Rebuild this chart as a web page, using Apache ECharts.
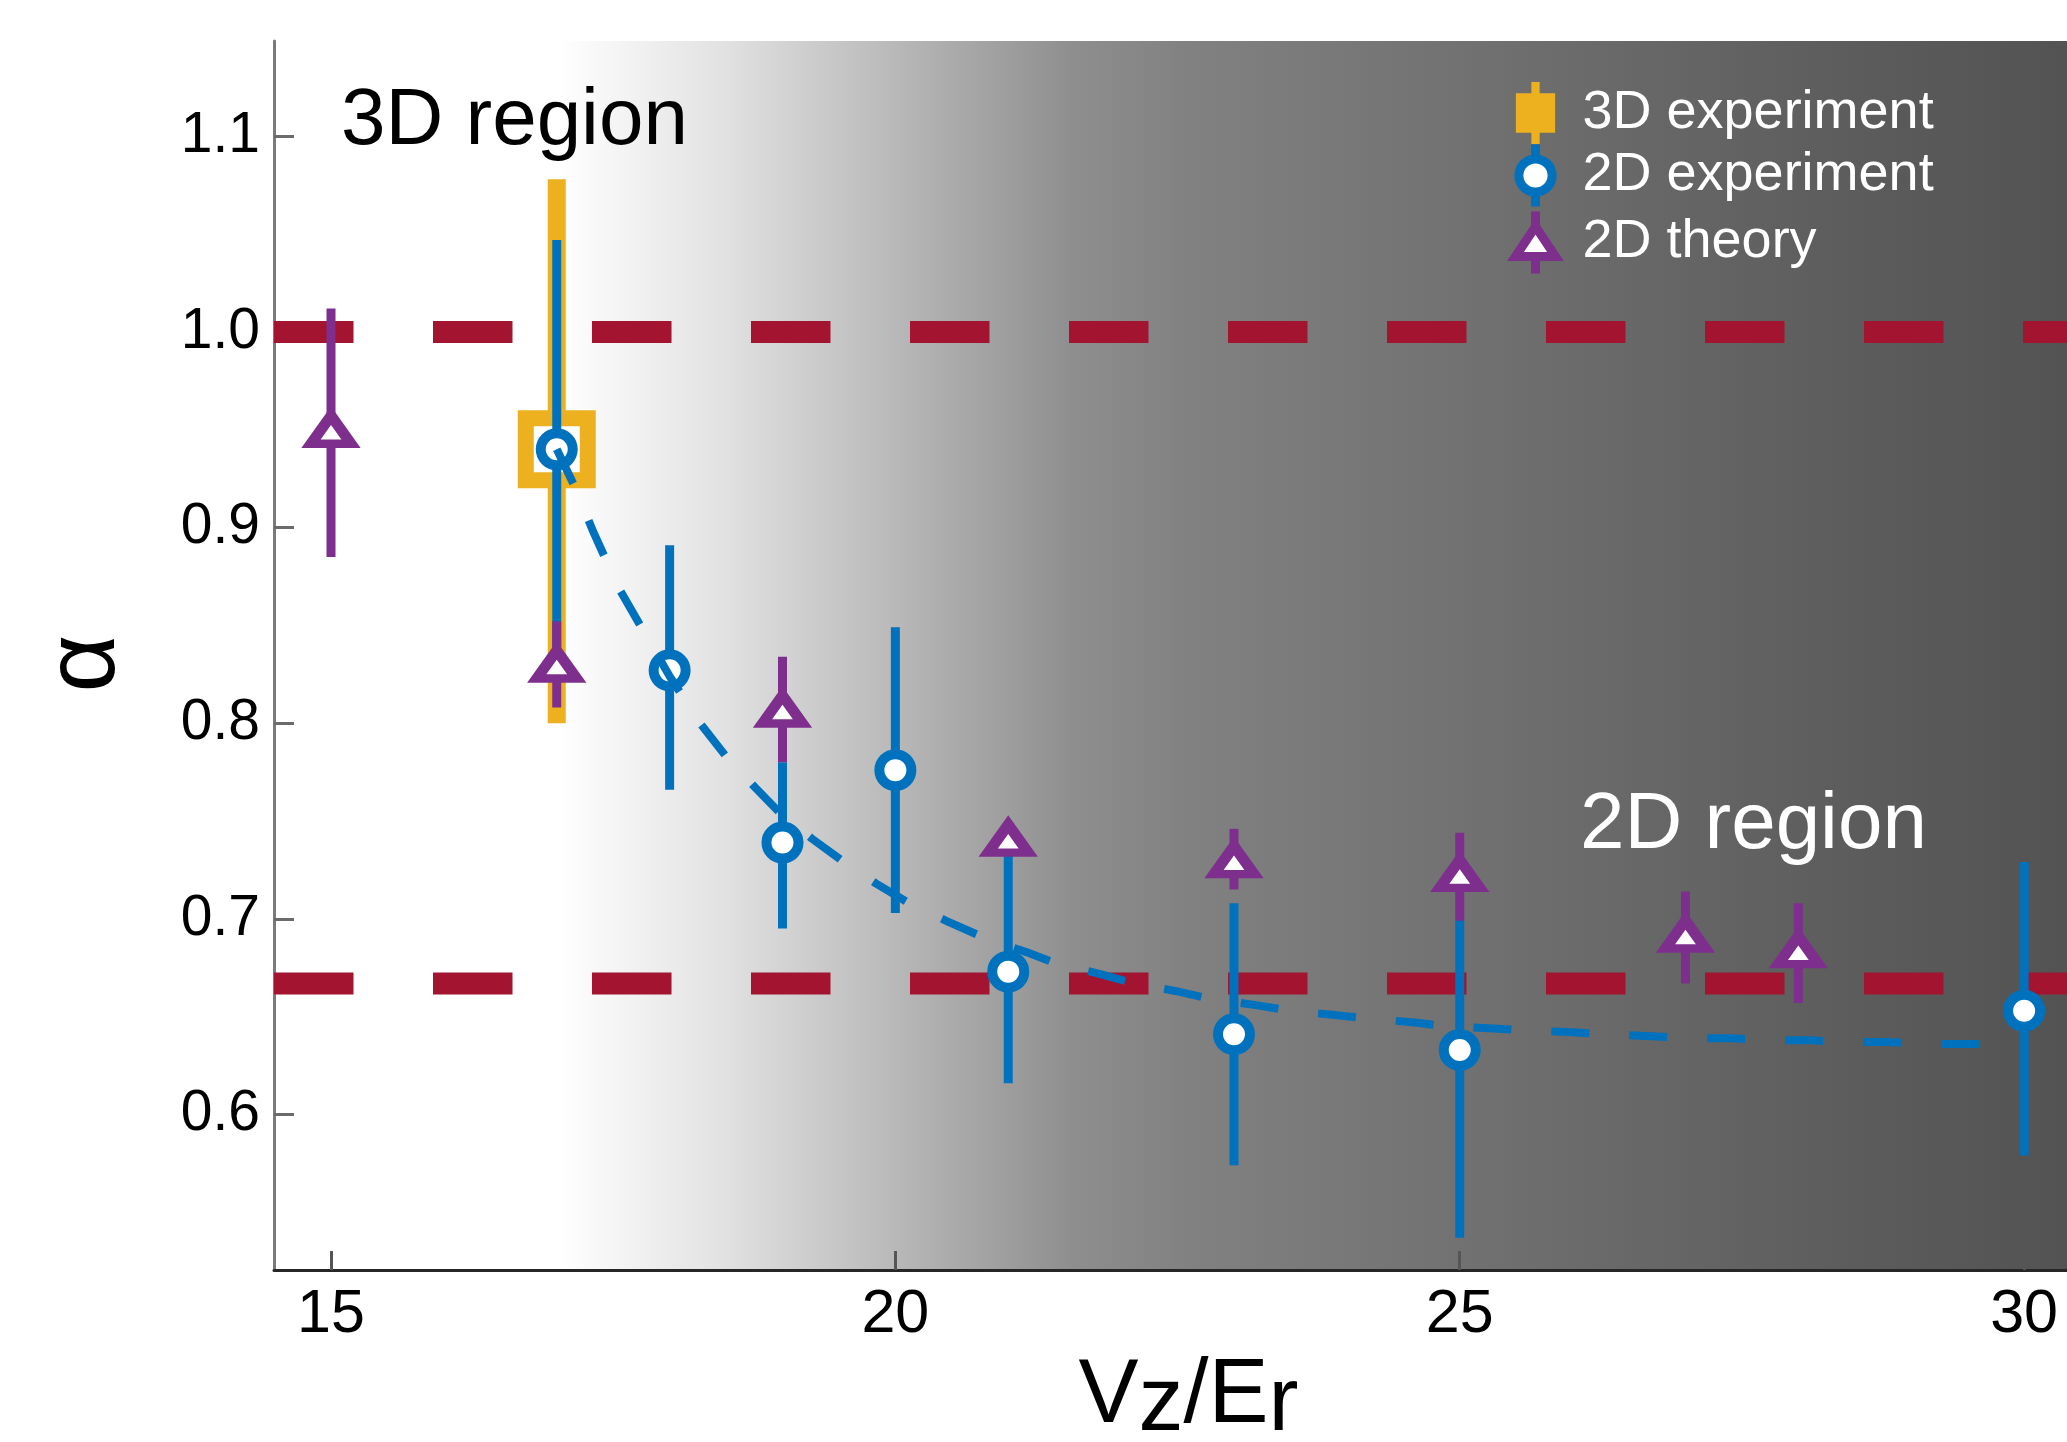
<!DOCTYPE html>
<html><head><meta charset="utf-8">
<script src="https://cdn.jsdelivr.net/npm/echarts@6/dist/echarts.min.js"></script>
<style>html,body{margin:0;padding:0;background:#fff}#c{width:2067px;height:1442px}</style>
</head><body><div id="c"></div>
<script>
// ---- data ----
const xTicks = [15, 20, 25, 30];
const yTicks = [0.6, 0.7, 0.8, 0.9, 1.0, 1.1];
const refLevels = [1.0, 0.667];

const exp3X = [17];
const exp3Y = [0.940];
const exp3Lo = [0.800];
const exp3Hi = [1.078];

const exp2X = [17, 18, 19, 20, 21, 23, 25, 30];
const exp2Y = [0.940, 0.827, 0.739, 0.776, 0.673, 0.641, 0.633, 0.653];
const exp2Lo = [0.835, 0.766, 0.695, 0.703, 0.616, 0.574, 0.537, 0.579];
const exp2Hi = [1.047, 0.891, 0.780, 0.849, 0.740, 0.708, 0.700, 0.729];

const theoX = [15, 17, 19, 21, 23, 25, 27, 28];
const theoY = [0.950, 0.830, 0.807, 0.741, 0.730, 0.723, 0.692, 0.684];
const theoLo = [0.885, 0.808, 0.780, 0.735, 0.715, 0.699, 0.667, 0.657];
const theoHi = [1.012, 0.852, 0.834, 0.748, 0.746, 0.744, 0.714, 0.708];

const fitX = [17.0, 17.15, 17.33, 17.55, 17.76, 18.0, 18.27, 18.5, 18.76, 18.98, 19.26, 19.57, 19.83, 20.15, 20.45, 20.8, 21.16, 21.43, 21.8, 22.12, 22.49, 22.8, 23.18, 23.5, 23.87, 24.2, 24.6, 24.9, 25.3, 25.6, 26.0, 26.3, 26.7, 27.0, 27.4, 27.7, 28.1, 28.4, 28.8, 29.1, 29.5, 29.8];
const fitY = [0.940, 0.922, 0.897, 0.869, 0.848, 0.824, 0.800, 0.783, 0.767, 0.754, 0.741, 0.728, 0.718, 0.707, 0.699, 0.690, 0.683, 0.677, 0.672, 0.667, 0.663, 0.659, 0.656, 0.653, 0.651, 0.649, 0.647, 0.645, 0.644, 0.643, 0.642, 0.641, 0.640, 0.639, 0.639, 0.638, 0.638, 0.637, 0.637, 0.636, 0.636, 0.636];

const xMin = 14.495, xMax = 30.38, yMin = 0.5205, yMax = 1.1487;

// ---- styles ----
const FONT = '"Liberation Sans", Arial, Helvetica, sans-serif';
const YEL = '#EDB120', BLU = '#0072BD', PUR = '#7E2F8E', RED = '#A2142F';

function errRender(color, width) {
  return function (params, api) {
    const x = api.value(0);
    const p1 = api.coord([x, api.value(1)]);
    const p2 = api.coord([x, api.value(2)]);
    return { type: 'line', shape: { x1: p1[0], y1: p1[1], x2: p2[0], y2: p2[1] },
             style: { stroke: color, lineWidth: width, lineCap: 'butt' } };
  };
}
const zip3 = (a, b, c) => a.map((v, i) => [v, b[i], c[i]]);
const zip2 = (a, b) => a.map((v, i) => [v, b[i]]);

const chart = echarts.init(document.getElementById('c'), null, { renderer: 'canvas' });

const refSeries = refLevels.map((lv, i) => ({
  name: 'ref' + i, type: 'line', z: 1, silent: true, symbol: 'none',
  data: [[xMin, lv], [xMax, lv]],
  lineStyle: { color: RED, width: 22, type: [79.5, 79.5], cap: 'butt' }
}));

chart.setOption({
  animation: false,
  backgroundColor: '#fff',
  grid: {
    left: 274, right: 0, top: 41, bottom: 172, show: true, borderWidth: 0,
    outerBoundsMode: 'none', containLabel: false,
    backgroundColor: { type: 'linear', x: 0, y: 0, x2: 1, y2: 0, colorStops: [
      { offset: 0, color: '#ffffff' }, { offset: 0.158, color: '#ffffff' },
      { offset: 0.25, color: '#e2e2e2' }, { offset: 0.315, color: '#c6c6c6' },
      { offset: 0.38, color: '#aaaaaa' }, { offset: 0.446, color: '#8e8e8e' },
      { offset: 0.51, color: '#818181' }, { offset: 0.637, color: '#747474' },
      { offset: 0.765, color: '#676767' }, { offset: 0.893, color: '#5b5b5b' },
      { offset: 1, color: '#535353' } ] }
  },
  xAxis: {
    type: 'value', min: xMin, max: xMax,
    axisLine: { show: true, onZero: false, lineStyle: { color: '#262626', width: 3 } },
    axisTick: { show: true, inside: true, length: 19, customValues: xTicks, lineStyle: { color: '#555', width: 3 } },
    axisLabel: { customValues: xTicks, fontSize: 61, fontFamily: FONT, color: '#000', margin: 15 },
    splitLine: { show: false },
    name: '{a|V}{b|z}{a|/E}{b|r}', nameLocation: 'middle', nameGap: 82,
    nameTextStyle: { fontSize: 90, fontFamily: FONT, color: '#000', padding: [0, 0, 0, 36],
      rich: { a: { fontSize: 90, fontFamily: FONT, color: '#000', padding: [0, 0, 16, 0] },
              b: { fontSize: 90, fontFamily: FONT, color: '#000' } } }
  },
  yAxis: {
    type: 'value', min: yMin, max: yMax,
    axisLine: { show: true, onZero: false, lineStyle: { color: '#7a7a7a', width: 3 } },
    axisTick: { show: true, inside: true, length: 20, customValues: yTicks, lineStyle: { color: '#6a6a6a', width: 3 } },
    axisLabel: { customValues: yTicks, formatter: v => v.toFixed(1), fontSize: 57, fontFamily: FONT, color: '#000', margin: 14 },
    splitLine: { show: false },
    name: 'α', nameLocation: 'middle', nameGap: 138,
    nameTextStyle: { fontSize: 100, fontFamily: FONT, color: '#000', padding: [0, 16, 0, 0] }
  },
  legend: {
    orient: 'vertical', left: 1506, top: 77, itemWidth: 84, itemHeight: 62, itemGap: -4,
    selectedMode: false,
    textStyle: { color: '#fff', fontSize: 54, fontFamily: FONT },
    data: [
      { name: '3D experiment', icon: 'path://M15,0 H23 V11 H38 V49 H23 V60 H15 V49 H0 V11 H15 Z',
        itemStyle: { color: YEL, borderWidth: 0 } },
      { name: '2D experiment', icon: 'path://M20,0 L20,13 M35,28 A15,15 0 1 1 5,28 A15,15 0 1 1 35,28 Z M20,43 L20,56',
        itemStyle: { color: '#fff', borderColor: BLU, borderWidth: 9, borderJoin: 'miter' } },
      { name: '2D theory', icon: 'path://M27,0 L27,15 M27,15 L47,45 L7,45 Z M27,45 L27,62',
        itemStyle: { color: '#fff', borderColor: PUR, borderWidth: 9, borderJoin: 'miter' } }
    ]
  },
  graphic: [
    { type: 'text', left: 341, top: 82, silent: true,
      style: { text: '3D region', fill: '#000', font: '80px ' + FONT } },
    { type: 'text', left: 1580, top: 786, silent: true,
      style: { text: '2D region', fill: '#fff', font: '80px ' + FONT } }
  ],
  series: [
    ...refSeries,
    { name: '3D experiment', type: 'custom', z: 2, silent: true, renderItem: errRender(YEL, 18),
      encode: { x: 0, y: [1, 2] }, data: zip3(exp3X, exp3Lo, exp3Hi) },
    { name: '3D experiment', type: 'scatter', z: 3, silent: true, symbol: 'rect', symbolSize: 62,
      itemStyle: { color: '#fff', borderColor: YEL, borderWidth: 16, borderJoin: 'miter', opacity: 1 },
      data: zip2(exp3X, exp3Y) },
    { name: '2D experiment', type: 'custom', z: 4, silent: true, renderItem: errRender(BLU, 9),
      encode: { x: 0, y: [1, 2] }, data: zip3(exp2X, exp2Lo, exp2Hi) },
    { name: '2D experiment', type: 'scatter', z: 5, silent: true, symbol: 'circle', symbolSize: 32,
      itemStyle: { color: '#fff', borderColor: BLU, borderWidth: 10, opacity: 1 },
      data: zip2(exp2X, exp2Y) },
    { name: 'fit', type: 'line', z: 6, silent: true, symbol: 'none', smooth: false,
      lineStyle: { color: BLU, width: 8, type: [38, 40], cap: 'butt' },
      data: zip2(fitX, fitY) },
    { name: '2D theory', type: 'custom', z: 7, silent: true, renderItem: errRender(PUR, 9),
      encode: { x: 0, y: [1, 2] }, data: zip3(theoX, theoLo, theoHi) },
    { name: '2D theory', type: 'scatter', z: 8, silent: true, symbol: 'triangle', symbolSize: [40, 28],
      itemStyle: { color: '#fff', borderColor: PUR, borderWidth: 10, borderJoin: 'miter', borderMiterLimit: 10, opacity: 1 },
      data: zip2(theoX, theoY) }
  ]
});
</script>
</body></html>
